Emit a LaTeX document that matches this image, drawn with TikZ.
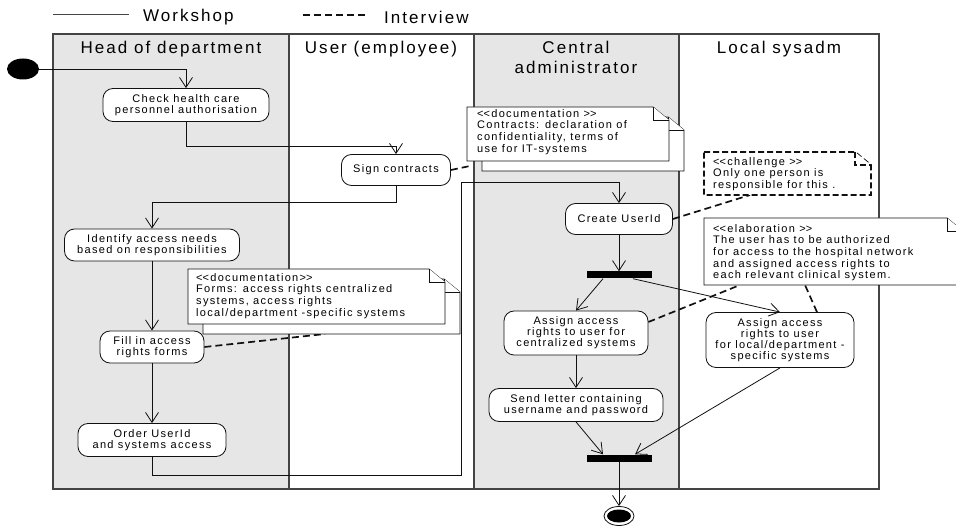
\documentclass[tikz,border=0pt]{standalone}
\usepackage{fontspec}
\setmainfont{Liberation Sans}[LetterSpace=12]
\usetikzlibrary{arrows.meta,shapes.geometric}

\definecolor{lanegray}{HTML}{E6E6E6}
\definecolor{ink}{HTML}{111111}
\definecolor{rule}{HTML}{444444}

% stereotype brackets, kept as two separate characters
\newcommand\stopen{<\kern0pt<}
\newcommand\stclose{>\kern0pt>}

% one folded note sheet: x, y (top left), width, height, extra options
\newcommand\notesheet[5]{%
  \filldraw[notebox,#5] (#1,#2) -- ++({#3-16},0) -- ++(16,13) -- ++(0,{#4-13}) -- ++({-#3},0) -- cycle;
  \draw[notebox,#5] ({#1+#3-16},#2) -- ++(0,13) -- ++(16,0);
}

\tikzset{
  lanehead/.style={anchor=north, align=center, inner sep=0pt, font=\fontsize{17}{20}\selectfont},
  legendtext/.style={anchor=west, inner sep=0pt, font=\fontsize{17}{20}\selectfont},
  act/.style={draw=ink, fill=white, line width=0.8pt, rounded corners=10pt, align=center,
    inner sep=0pt, font=\fontsize{11}{11}\selectfont},
  bar/.style={fill=black, minimum width=65pt, minimum height=7pt, inner sep=0pt},
  flow/.style={draw=ink, line width=0.8pt, -{Straight Barb[length=10pt,width=13pt]}},
  interview/.style={draw=ink, line width=1.7pt, dash pattern=on 7pt off 4pt},
  notebox/.style={draw=ink, fill=white, line width=0.8pt},
  challengebox/.style={line width=1.8pt, dash pattern=on 6pt off 3pt},
  notetext/.style={anchor=north west, align=left, inner sep=0pt, font=\fontsize{11}{11.7}\selectfont},
  laneline/.style={draw=rule, line width=1.2pt},
}

\begin{document}
\begin{tikzpicture}[x=1pt, y=-1pt]
\useasboundingbox (0,0) rectangle (956,526);
\clip (0,0) rectangle (956,526);

% legend
\coordinate (wsA) at (53,15);
\coordinate (wsB) at (129,15);
\draw[draw=rule, line width=1pt] (wsA) -- (wsB);
\node[legendtext] (wsT) at (143,17) {Workshop};
\coordinate (ivA) at (303,15);
\coordinate (ivB) at (368,15);
\draw[interview, line width=2pt] (ivA) -- (ivB);
\node[legendtext] (ivT) at (384,17) {Interview};

% swimlanes
\fill[lanegray] (53,34) rectangle (289,489);
\fill[lanegray] (474,34) rectangle (679,489);
\draw[laneline] (53,34) rectangle (879,489);
\draw[laneline] (289,34) -- (289,489);
\draw[laneline] (474,34) -- (474,489);
\draw[laneline] (679,34) -- (679,489);
\node[lanehead] (hHead) at (171,41) {Head of department};
\node[lanehead] (hUser) at (381,41) {User (employee)};
\node[lanehead] (hCentral) at (576,41) {Central\\administrator};
\node[lanehead] (hLocal) at (779,41) {Local sysadm};

% start and end
\node[ellipse, fill=black, minimum width=32pt, minimum height=21pt, inner sep=0pt] (init) at (23,69) {};
\node[ellipse, draw=ink, fill=white, line width=0.8pt, minimum width=30pt, minimum height=19pt, inner sep=0pt] (final) at (619,516) {};
\node[ellipse, fill=black, minimum width=24pt, minimum height=13pt, inner sep=0pt] (finalin) at (final) {};

% activities
\node[act, minimum width=166pt, minimum height=33pt] (check) at (186,105) {Check health care\\personnel authorisation};
\node[act, minimum width=109pt, minimum height=31pt] (sign) at (396,170) {Sign contracts};
\node[act, minimum width=175pt, minimum height=32pt] (identify) at (152,245) {Identify access needs\\based on responsibilities};
\node[act, minimum width=104pt, minimum height=32pt] (fill) at (152,347) {Fill in access\\rights forms};
\node[act, minimum width=148pt, minimum height=33pt] (order) at (152,440) {Order UserId\\and systems access};
\node[act, minimum width=107pt, minimum height=31pt] (create) at (619,219) {Create UserId};
\node[act, minimum width=144pt, minimum height=44pt] (assignC) at (576,333) {Assign access\\rights to user for\\centralized systems};
\node[act, minimum width=148pt, minimum height=55pt] (assignL) at (780,340) {Assign access\\rights to user\\for local/department -\\specific systems};
\node[act, minimum width=174pt, minimum height=33pt] (send) at (576,405) {Send letter containing\\username and password};
\node[bar] (fork) at (619,275) {};
\node[bar] (join) at (619,458) {};

% control flow
\coordinate (bend) at (461,182);
\draw[flow] (init) -| (check);
\draw[flow] (check.south) -- ++(0,25) -| (sign.north);
\draw[flow] (sign.south) -- ++(0,17) -| (identify.north);
\draw[flow] (identify) -- (fill);
\draw[flow] (fill) -- (order);
\draw[flow] (order.south) -- ++(0,18) -| (bend) -| (create.north);
\draw[flow] (create) -- (fork);
\draw[flow] ([xshift=-16pt]fork.south) -- (assignC.north);
\draw[flow] ([xshift=14pt]fork.south) -- (assignL.north);
\draw[flow] (assignC) -- (send);
\draw[flow] (send.south) -- ([xshift=-16pt]join.north);
\draw[flow] (assignL.south) -- ([xshift=16pt]join.north);
\draw[flow] (join) -- (final);

% note attachments
\coordinate (tipA) at (470,166);
\coordinate (tipB) at (750,195);
\coordinate (tipC1) at (740,285);
\coordinate (tipC2) at (805,285);
\coordinate (tipD) at (325,334);
\draw[interview] (sign.east) -- (tipA);
\draw[interview] (create.east) -- (tipB);
\draw[interview] ([yshift=11pt]assignC.east) -- (tipC1);
\draw[interview] ([xshift=37pt]assignL.north) -- (tipC2);
\draw[interview] (fill.east) -- (tipD);

% notes
\notesheet{482}{117}{202}{54}{}
\notesheet{467}{107}{202}{54}{}
\node[notetext] (noteA) at (477,109) {\stopen documentation \stclose\\Contracts: declaration of\\confidentiality, terms of\\use for IT-systems};

\notesheet{704}{152}{167}{43}{challengebox}
\node[notetext] (noteB) at (713,157) {\stopen challenge \stclose\\Only one person is\\responsible for this .};

\notesheet{704}{218}{259}{67}{}
\node[notetext] (noteC) at (713,224) {\stopen elaboration \stclose\\The user has to be authorized\\for access to the hospital network\\and assigned access rights to\\each relevant clinical system.};

\notesheet{203}{279}{257}{55}{}
\notesheet{188}{269}{257}{55}{}
\node[notetext] (noteD) at (196,273) {\stopen documentation\stclose\\Forms: access rights centralized\\systems, access rights\\local/department -specific systems};

\end{tikzpicture}
\end{document}
